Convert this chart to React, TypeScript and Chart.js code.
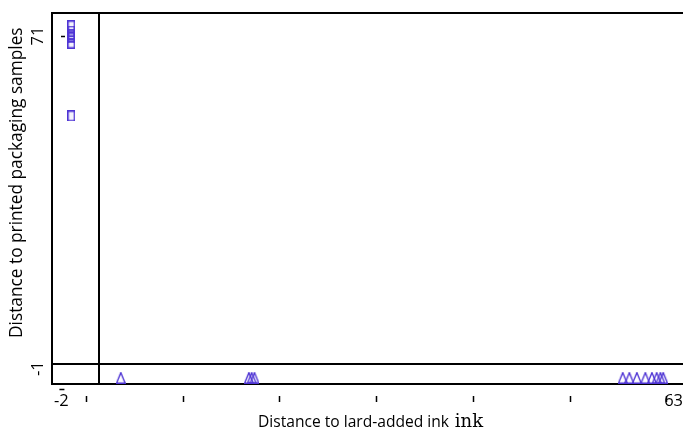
import React, { useEffect, useRef } from "react";
import { Chart, registerables } from "chart.js";

Chart.register(...registerables);

// Axis labels shown on the scales
const X_TICK_LABELS = [-2, 63];
const Y_TICK_LABELS = [71, -1];
// Unlabelled tick marks along the x axis
const X_MARKS = [0.6, 10.9, 21.1, 31.4, 41.7, 52.0, 62.2];
// Reference lines
const X_REF = 2;
const Y_REF = 0;

// Series 1: squares (printed packaging samples)
const SQUARE_X = [-0.95, -0.95, -0.95, -0.95, -0.95, -0.95, -0.95];
const SQUARE_Y = [73.2, 72.1, 71.4, 71.0, 70.6, 69.5, 53.7];

// Series 2: triangles (lard-added ink)
const TRIANGLE_X = [4.3, 17.9, 18.2, 18.5, 57.6, 58.3, 59.1, 60.0, 60.7, 61.2, 61.6, 61.9];
const TRIANGLE_Y = [-3, -3, -3, -3, -3, -3, -3, -3, -3, -3, -3, -3];

const X_TITLE_SANS = "Distance to lard-added ink";
const X_TITLE_SERIF = " ink";
const Y_TITLE = "Distance to printed packaging samples";

const COLOR = "rgb(78, 52, 212)";
const SANS = "'Open Sans', 'Noto Sans', sans-serif";

function makeRect(): HTMLCanvasElement {
  const c = document.createElement("canvas");
  c.width = 8;
  c.height = 11;
  const g = c.getContext("2d")!;
  g.fillStyle = "rgba(120, 100, 230, 0.08)";
  g.fillRect(1, 1, 6, 9);
  g.strokeStyle = COLOR;
  g.lineWidth = 1.5;
  g.strokeRect(0.75, 0.75, 6.5, 9.5);
  return c;
}

function makeTri(): HTMLCanvasElement {
  const c = document.createElement("canvas");
  c.width = 10;
  c.height = 12;
  const g = c.getContext("2d")!;
  g.strokeStyle = COLOR;
  g.lineWidth = 1.4;
  g.beginPath();
  g.moveTo(5, 0.8);
  g.lineTo(9.3, 11.3);
  g.lineTo(0.7, 11.3);
  g.closePath();
  g.stroke();
  return c;
}

const framePlugin = {
  id: "frame",
  beforeDatasetsDraw(chart: any) {
    const { ctx, chartArea, scales } = chart;
    const { left, right, top, bottom } = chartArea;
    const x = scales.x;
    const y = scales.y;
    ctx.save();
    ctx.strokeStyle = "#000";
    ctx.lineWidth = 2;
    ctx.beginPath();
    ctx.moveTo(right, top);
    ctx.lineTo(left, top);
    ctx.lineTo(left, bottom);
    ctx.lineTo(right, bottom);
    const vx = Math.round(x.getPixelForValue(X_REF));
    ctx.moveTo(vx, top);
    ctx.lineTo(vx, bottom);
    const hy = Math.round(y.getPixelForValue(Y_REF));
    ctx.moveTo(left, hy);
    ctx.lineTo(right, hy);
    ctx.stroke();

    // small tick marks
    ctx.lineWidth = 1.5;
    ctx.beginPath();
    X_MARKS.forEach((v) => {
      const px = Math.round(x.getPixelForValue(v)) + 0.5;
      ctx.moveTo(px, bottom + 12);
      ctx.lineTo(px, bottom + 18);
    });
    // dash near top y label
    const py = Math.round(y.getPixelForValue(Y_TICK_LABELS[0])) + 0.5;
    ctx.moveTo(left + 9, py);
    ctx.lineTo(left + 13, py);
    // dash above first x label
    const dx = x.getPixelForValue(X_TICK_LABELS[0]);
    ctx.moveTo(dx - 2, bottom + 5.5);
    ctx.lineTo(dx + 3, bottom + 5.5);
    ctx.stroke();
    ctx.restore();
  },
  afterDraw(chart: any) {
    const { ctx } = chart;
    ctx.save();
    ctx.fillStyle = "#000";
    ctx.textBaseline = "alphabetic";
    // x title (mixed fonts)
    ctx.font = `15.6px ${SANS}`;
    ctx.textAlign = "left";
    const xStart = 258;
    ctx.fillText(X_TITLE_SANS, xStart, 427);
    const w = ctx.measureText(X_TITLE_SANS).width;
    ctx.font = `18px 'DejaVu Serif', serif`;
    ctx.fillText(X_TITLE_SERIF, xStart + w, 427);
    // y title
    ctx.translate(22, 338);
    ctx.rotate(-Math.PI / 2);
    ctx.font = `17.3px ${SANS}`;
    ctx.textAlign = "left";
    ctx.fillText(Y_TITLE, 0, 0);
    ctx.restore();
  },
};

export default function App() {
  const ref = useRef<HTMLCanvasElement>(null);
  useEffect(() => {
    const sq = makeRect();
    const tri = makeTri();
    const chart = new Chart(ref.current!, {
      type: "scatter",
      data: {
        datasets: [
          {
            data: SQUARE_X.map((x, i) => ({ x, y: SQUARE_Y[i] })),
            pointStyle: sq as any,
            borderColor: COLOR,
            backgroundColor: "transparent",
          },
          {
            data: TRIANGLE_X.map((x, i) => ({ x, y: TRIANGLE_Y[i] })),
            pointStyle: tri as any,
            borderColor: COLOR,
            backgroundColor: "transparent",
          },
        ],
      },
      options: {
        animation: false,
        responsive: true,
        maintainAspectRatio: false,
        layout: { padding: { top: 13, right: 0, left: 0, bottom: 0 } },
        plugins: { legend: { display: false }, tooltip: { enabled: false } },
        scales: {
          x: {
            type: "linear",
            min: -3,
            max: 64,
            grid: { display: false, drawTicks: false },
            border: { display: false },
            afterBuildTicks: (s: any) => {
              s.ticks = X_TICK_LABELS.map((v) => ({ value: v }));
            },
            afterFit: (s: any) => {
              s.height = 46;
              s.paddingLeft = 0;
              s.paddingRight = 0;
            },
            ticks: {
              font: { family: SANS, size: 16.5 },
              color: "#000",
              padding: 7,
              maxRotation: 0,
              autoSkip: false,
            },
          },
          y: {
            type: "linear",
            min: -4.33,
            max: 76,
            grid: { display: false, drawTicks: false },
            border: { display: false },
            afterBuildTicks: (s: any) => {
              s.ticks = Y_TICK_LABELS.map((v) => ({ value: v }));
            },
            afterFit: (s: any) => {
              s.width = 52;
              s.paddingTop = 0;
              s.paddingBottom = 0;
            },
            ticks: {
              font: { family: SANS, size: 16.5 },
              color: "#000",
              padding: 4,
              minRotation: 90,
              maxRotation: 90,
              crossAlign: "center",
              autoSkip: false,
            },
          },
        },
      },
      plugins: [framePlugin],
    });
    return () => chart.destroy();
  }, []);
  return (
    <div
      style={{
        position: "fixed",
        left: 0,
        top: 0,
        width: 688,
        height: 430,
        background: "#fff",
      }}
    >
      <canvas ref={ref} />
    </div>
  );
}
